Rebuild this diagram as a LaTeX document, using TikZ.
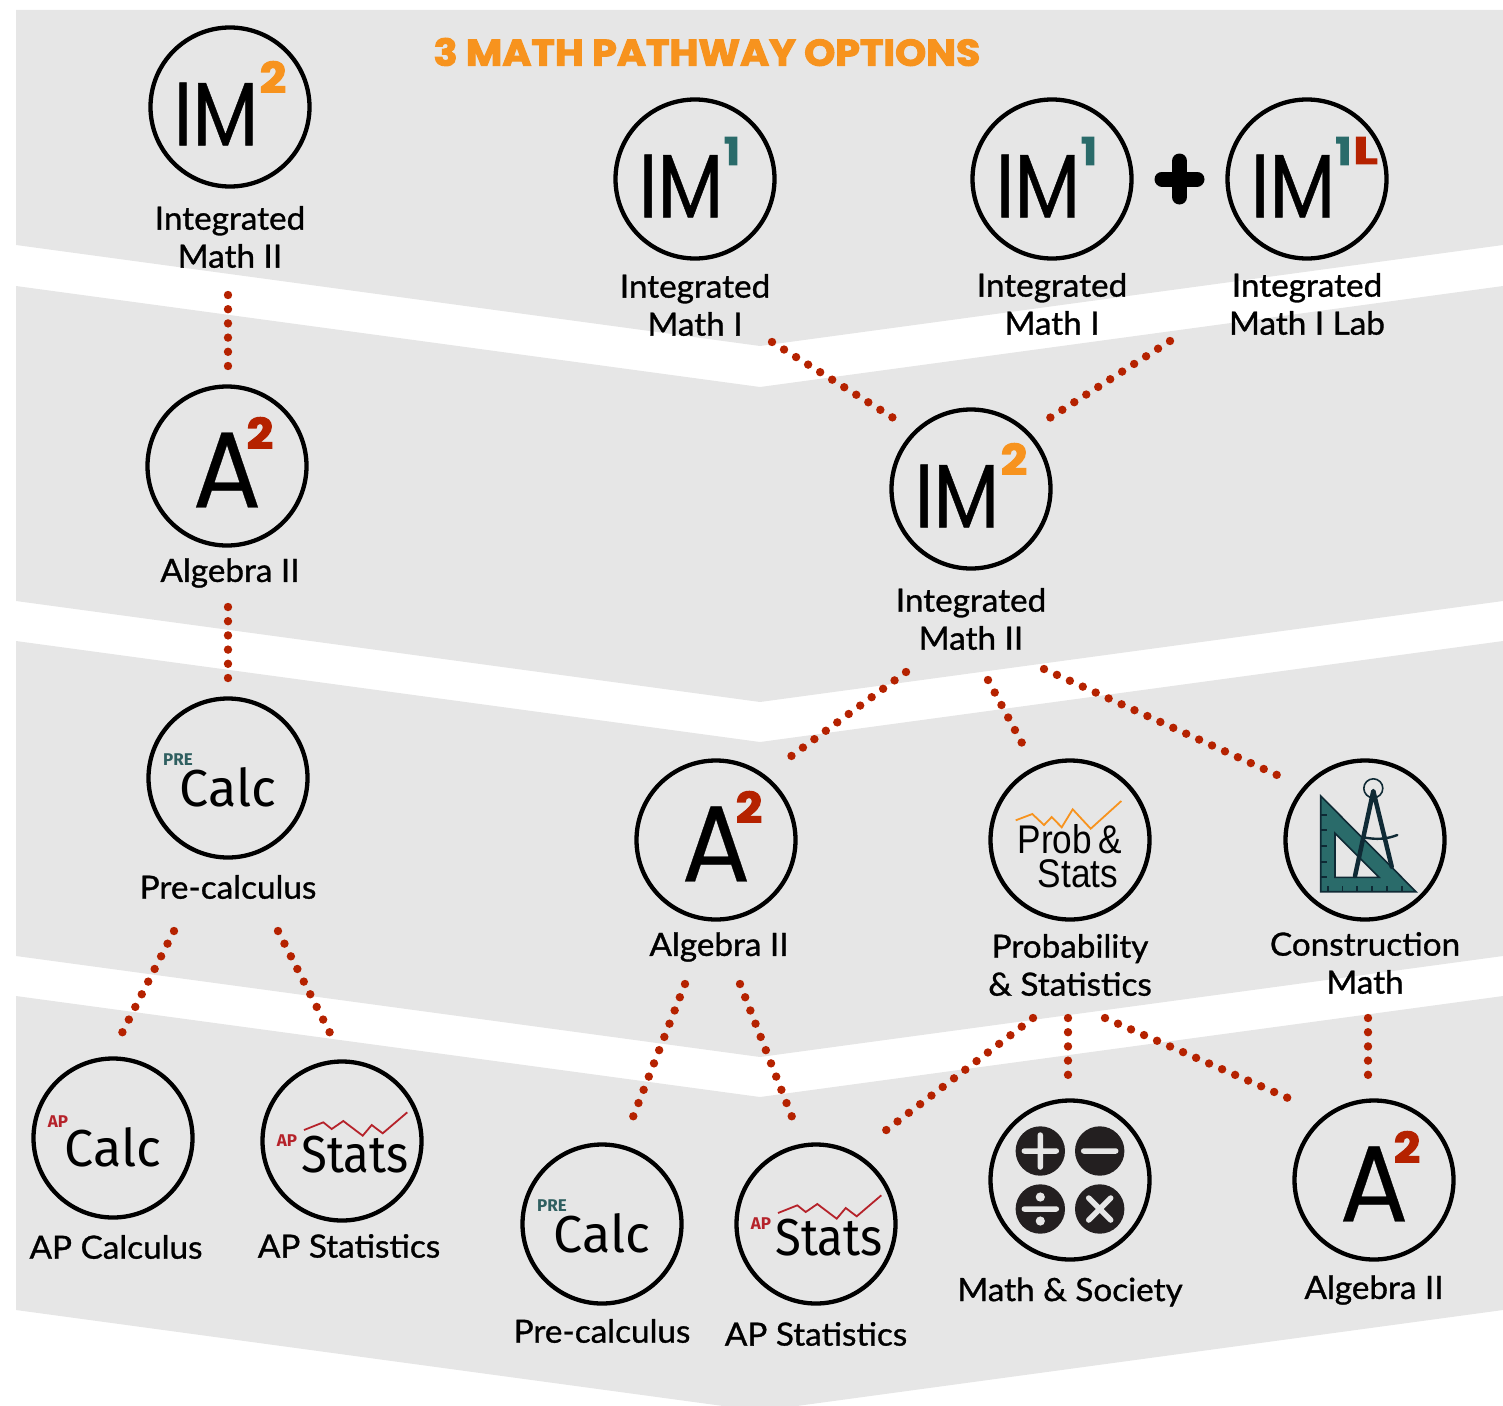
\documentclass[tikz,border=0pt]{standalone}
\usepackage{fontspec}
\usetikzlibrary{calc}
\setmainfont{Lato}[FakeBold=1.0,FakeStretch=1.04]
\newfontfamily\iconf{Poppins}[FakeStretch=0.85,FakeBold=0.5]
\newfontfamily\alef{Poppins}[FakeStretch=0.94,FakeBold=0.3]
\newfontfamily\supf{Poppins}[BoldFeatures={FakeBold=3,FakeStretch=1.1}]
\newfontfamily\supl{Poppins}[BoldFeatures={FakeBold=3,FakeStretch=1.35}]
\newfontfamily\ttlf{Poppins}[BoldFeatures={FakeBold=3,FakeStretch=1.07}]
\newfontfamily\calcf{Fira Sans}
\newfontfamily\statf{Fira Sans}[FakeStretch=0.91]
\newfontfamily\probf{Liberation Sans}[FakeStretch=0.88]
\definecolor{band}{HTML}{E6E6E6}
\definecolor{orng}{HTML}{F7931E}
\definecolor{dotred}{HTML}{B52200}
\definecolor{apred}{HTML}{B5222A}
\definecolor{teal}{HTML}{2A6B6A}
\definecolor{dteal}{HTML}{0F2A35}
\definecolor{pret}{HTML}{2F5F60}
\definecolor{disk}{HTML}{231F20}
\tikzset{
  ring/.style={circle,draw=black,line width=4.3pt,minimum size=159pt,inner sep=0pt,outer sep=0pt,fill=none},
  lab/.style={inner sep=0pt,outer sep=0pt,align=center,font=\fontsize{32}{38}\selectfont,text=black},
  ticon/.style={inner sep=0pt,outer sep=0pt,text=black},
  dots/.style={draw=dotred,line width=8.4pt,line cap=round,dash pattern=on 0pt off 14.2pt},
  zig/.style={line width=1.8pt,line join=miter},
}
\newcommand\supnum[5]{\node[ticon,text=#4,font=\supf\bfseries\fontsize{#5}{#5}\selectfont] at ([shift={#2}]#1.center) {#3};}
\newcommand\imtext[1]{\node[ticon,font=\iconf\fontsize{90}{90}\selectfont] (#1-t) at ([shift={(-14,7)}]#1.center) {IM};}
\newcommand\atext[1]{\node[ticon,font=\alef\fontsize{108}{108}\selectfont] (#1-t) at ([shift={(0,4)}]#1.center) {A};\supnum{#1}{(33,-33)}{2}{dotred}{42}}
\newcommand\calctext[1]{\node[ticon,font=\calcf\fontsize{52}{52}\selectfont] (#1-t) at ([shift={(0,9)}]#1.center) {Calc};}
\newcommand\statstext[1]{%
  \node[ticon,font=\statf\fontsize{52}{52}\selectfont] (#1-t) at ([shift={(13,14)}]#1.center) {Stats};
  \node[ticon,text=apred,font=\calcf\bfseries\fontsize{17}{17}\selectfont] (#1-p) at ([shift={(-55,0)}]#1.center) {AP};
  \draw[zig,apred] ([shift={(-38,-11)}]#1.center) -- ++(19.3,-7.7) -- ++(8.4,6.7) -- ++(11.6,-8) -- ++(19.4,14.7) -- ++(9,-10.7) -- ++(11,8.3) -- ++(24.6,-21);
}
\begin{document}
\begin{tikzpicture}[x=1pt,y=-1pt]
\useasboundingbox (0,0) rectangle (1503,1405);
% bands
\fill[band] (16,10) -- (1503,10) -- (1503,245) -- (760,346) -- (16,245) -- cycle;
\fill[band] (16,286) -- (760,387) -- (1503,286) -- (1503,601) -- (760,702) -- (16,601) -- cycle;
\fill[band] (16,641) -- (760,742) -- (1503,641) -- (1503,956) -- (760,1057) -- (16,956) -- cycle;
\fill[band] (16,996) -- (760,1097) -- (1503,996) -- (1503,1310) -- (760,1411) -- (16,1310) -- cycle;
% title
\node[ticon,text=orng,font=\ttlf\bfseries\fontsize{37}{37}\selectfont] (title) at (707,52) {3 MATH PATHWAY OPTIONS};
% rings
\node[ring] (imA) at (230,107) {};
\node[ring] (imB) at (695,179) {};
\node[ring] (imC) at (1052,179) {};
\node[ring] (imD) at (1307,179) {};
\node[ring] (algA) at (227,466) {};
\node[ring] (imE) at (971,489) {};
\node[ring] (preA) at (228,778) {};
\node[ring] (algB) at (716,840) {};
\node[ring] (prob) at (1070,840) {};
\node[ring] (cons) at (1365,840) {};
\node[ring] (apcalc) at (113,1138) {};
\node[ring] (apstA) at (342,1141) {};
\node[ring] (preB) at (602,1224) {};
\node[ring] (apstB) at (816,1224) {};
\node[ring] (soc) at (1070,1180) {};
\node[ring] (algC) at (1374,1180) {};
% IM icons
\imtext{imA}\supnum{imA}{(43,-30)}{2}{orng}{42}
\imtext{imB}\supnum{imB}{(37,-28)}{1}{teal}{38}
\imtext{imC}\supnum{imC}{(37,-28)}{1}{teal}{38}
\imtext{imD}\supnum{imD}{(36.5,-28)}{1}{teal}{38}
\node[ticon,text=dotred,font=\supl\bfseries\fontsize{38}{38}\selectfont] at ([shift={(58.5,-28.5)}]imD.center) {L};
\imtext{imE}\supnum{imE}{(43,-30)}{2}{orng}{42}
% plus sign
\draw[line width=15pt,line cap=round] ([shift={(-17.5,0)}]$(imC.center)!0.5!(imD.center)$) -- ++(35,0);
\draw[line width=15pt,line cap=round] ([shift={(0,-18)}]$(imC.center)!0.5!(imD.center)$) -- ++(0,36);
% Algebra icons
\atext{algA}\atext{algB}\atext{algC}
% Calc icons
\calctext{preA}\node[ticon,text=pret,font=\calcf\bfseries\fontsize{17}{17}\selectfont] at ([shift={(-50,-18)}]preA.center) {PRE};
\calctext{preB}\node[ticon,text=pret,font=\calcf\bfseries\fontsize{17}{17}\selectfont] at ([shift={(-50,-18)}]preB.center) {PRE};
\calctext{apcalc}\node[ticon,text=apred,font=\calcf\bfseries\fontsize{17}{17}\selectfont] at ([shift={(-55,-16)}]apcalc.center) {AP};
% Stats icons
\statstext{apstA}\statstext{apstB}
% Prob & Stats icon
\draw[zig,orng] ([shift={(-54.3,-19.7)}]prob.center) -- ++(16.6,-6.3) -- ++(11.7,11) -- ++(7.7,-8) -- ++(10,10.3) -- ++(11,-18) -- ++(18,19.4) -- ++(30.6,-27.7);
\node[ticon,font=\probf\fontsize{40}{40}\selectfont] (prob-a) at ([shift={(0,-1)}]prob.center) {Prob\hspace{-3pt} \&};
\node[ticon,font=\probf\fontsize{40}{40}\selectfont] (prob-b) at ([shift={(8,34)}]prob.center) {Stats};
% Construction icon
\begin{scope}[shift={(cons.center)}]
  \fill[teal,draw=dteal,line width=1.6pt,even odd rule,line join=miter]
    (-44.3,-44) -- (-44.3,51.7) -- (51,51.7) -- cycle
    (-30,-6.7) -- (14,37.3) -- (-30,37.3) -- cycle;
  \draw[dteal,line width=1.6pt] (-44.3,-25) -- ++(6,0) (-44.3,-10) -- ++(6,0) (-44.3,6) -- ++(6,0) (-44.3,22) -- ++(6,0) (-44.3,37) -- ++(6,0);
  \draw[dteal,line width=1.6pt] (-37,51.7) -- ++(0,-5.5) (-22.5,51.7) -- ++(0,-5.5) (-8,51.7) -- ++(0,-5.5) (6.7,51.7) -- ++(0,-5.5) (21.7,51.7) -- ++(0,-5.5) (36.7,51.7) -- ++(0,-5.5);
  \draw[dteal,line width=1.6pt] (8.3,-51.7) circle[radius=9.5];
  \draw[dteal,line width=4.5pt,line cap=round,line join=round] (-10,36) -- (8.3,-49) -- (26.7,26.7);
  \draw[dteal,line width=2.4pt,line cap=round] (-1.7,-2.7) .. controls (12,0) and (22,-1) .. (32.3,-5);
\end{scope}
% Math & Society icon
\begin{scope}[shift={(soc.center)}]
  \fill[disk] (-29.7,-29) circle[radius=24.7] (29.7,-29) circle[radius=24.7] (-29.7,29) circle[radius=24.7] (29.7,29) circle[radius=24.7];
  \draw[band,line width=5.5pt,line cap=round] (-45.7,-29) -- (-13.7,-29) (-29.7,-45) -- (-29.7,-13) (13.7,-29) -- (45.7,-29) (-45.7,29) -- (-13.7,29) (18.7,18) -- (40.7,40) (40.7,18) -- (18.7,40);
  \fill[band] (-29.7,17) circle[radius=4.6] (-29.7,41) circle[radius=4.6];
\end{scope}
% labels
\node[lab] (lA) at (230,237) {Integrated\\Math II};
\node[lab] (lB) at (695,305) {Integrated\\Math I};
\node[lab] (lC) at (1052,304) {Integrated\\Math I};
\node[lab] (lD) at (1307,304) {Integrated\\Math I Lab};
\node[lab] (lE) at (230,573) {Algebra II};
\node[lab] (lF) at (971,619) {Integrated\\Math II};
\node[lab] (lG) at (228,887) {Pre-calculus};
\node[lab] (lH) at (719,947) {Algebra II};
\node[lab] (lI) at (1070,965) {Probability\\\& Statistics};
\node[lab] (lJ) at (1365,963) {Construction\\Math};
\node[lab] (lK) at (116,1247) {AP Calculus};
\node[lab] (lL) at (349,1246) {AP Statistics};
\node[lab] (lM) at (602,1331) {Pre-calculus};
\node[lab] (lN) at (816,1334) {AP Statistics};
\node[lab] (lO) at (1070,1292) {Math \& Society};
\node[lab] (lP) at (1374,1290) {Algebra II};
% connectors
\draw[dots] ([shift={(-2,58)}]lA.center) -- ([shift={(1,-96)}]algA.center);
\draw[dots] ([shift={(-2,34)}]lE.center) -- ([shift={(0,-96)}]preA.center);
\draw[dots] ([shift={(-54,44)}]lG.center) -- ([shift={(9,-105)}]apcalc.center);
\draw[dots] ([shift={(50,44)}]lG.center) -- ([shift={(-12,-108)}]apstA.center);
\draw[dots] ([shift={(77,37)}]lB.center) -- ([shift={(-76,-70)}]imE.center);
\draw[dots] ([shift={(-137,37)}]lD.center) -- ([shift={(77,-70)}]imE.center);
\draw[dots] ([shift={(-65,53)}]lF.center) -- ([shift={(74,-83)}]algB.center);
\draw[dots] ([shift={(17,61)}]lF.center) -- ([shift={(-47,-95)}]prob.center);
\draw[dots] ([shift={(73,50)}]lF.center) -- ([shift={(-88,-65)}]cons.center);
\draw[dots] ([shift={(-34,37)}]lH.center) -- ([shift={(31,-107)}]preB.center);
\draw[dots] ([shift={(21,37)}]lH.center) -- ([shift={(-24,-107)}]apstB.center);
\draw[dots] ([shift={(-37,53)}]lI.center) -- ([shift={(69,-93)}]apstB.center);
\draw[dots] ([shift={(-2,53)}]lI.center) -- ([shift={(-2,-102)}]soc.center);
\draw[dots] ([shift={(35,53)}]lI.center) -- ([shift={(-86,-82)}]algC.center);
\draw[dots] ([shift={(3,55)}]lJ.center) -- ([shift={(-6,-102)}]algC.center);
\end{tikzpicture}
\end{document}
